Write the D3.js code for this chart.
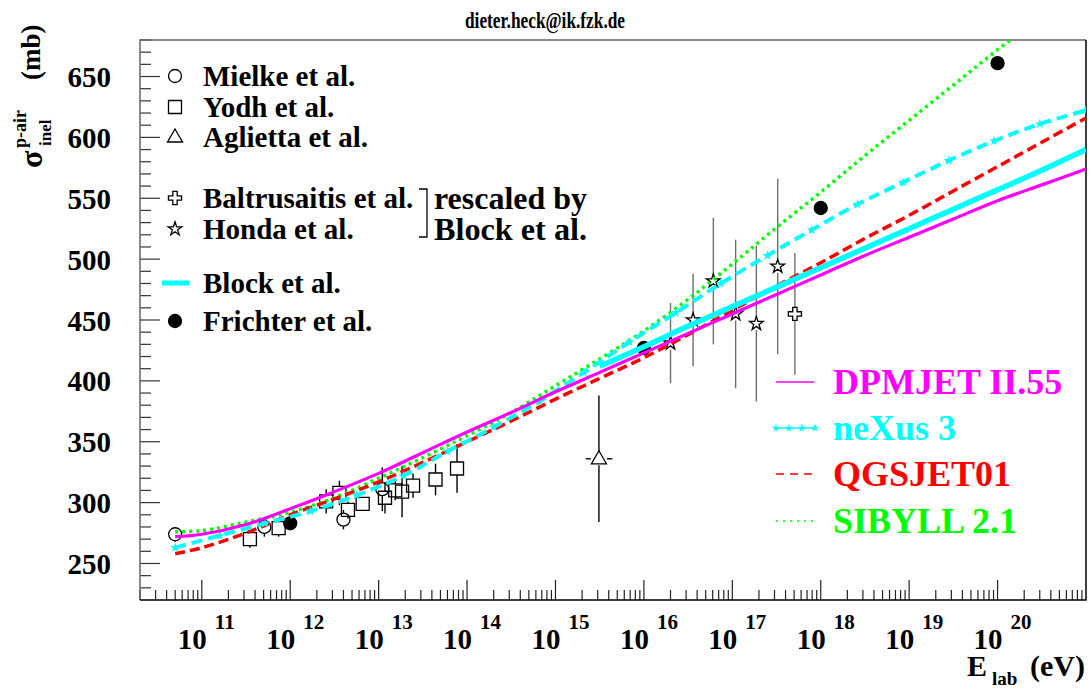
<!DOCTYPE html>
<html lang="en">
<head>
    <meta charset="UTF-8">
    <title>p-air inelastic cross section</title>
    <script src="https://d3js.org/d3.v7.min.js"></script>
    <style>
        body {
            margin: 0;
            background: #fff;
        }
        svg {
            display: block;
        }
        text {
            font-family: "Liberation Serif", "Times New Roman", serif;
            font-weight: bold;
        }
    </style>
</head>
<body>
    <svg id="chart" width="1090" height="689"></svg>
    <script>
// --- Chart values (energy in eV, cross section in mb) ---

// measurements
const mielkeE = [5.0e10, 5.1e11, 4.0e12, 1.1e13];
const mielkeSigma = [274, 280, 286, 311];
const mielkeErr = [6, 8, 8, 18];

const yodhE = [3.5e11, 7.4e11, 2.55e12, 3.6e12, 4.5e12, 6.6e12, 1.18e13, 1.54e13, 1.84e13, 2.45e13, 4.4e13, 7.7e13];
const yodhSigma = [270, 279, 301, 308, 294, 299, 304, 310, 309, 314, 319, 328];
const yodhErr = [7, 7, 10, 10, 7, 5, 13, 8, 21, 10, 13, 20];

const agliettaE = [3.1e15];
const agliettaELow = [2.2e15];
const agliettaEHigh = [4.4e15];
const agliettaSigma = [336];
const agliettaErr = [52];

const baltrusaitisE = [5.1e17];
const baltrusaitisSigma = [455];
const baltrusaitisErr = [50];

const hondaE = [2.0e16, 3.6e16, 6.1e16, 1.09e17, 1.87e17, 3.26e17];
const hondaSigma = [431, 450, 482, 455, 447, 494];
const hondaErr = [33, 38, 52, 61, 64, 72];

const frichterE = [1e12, 1e16, 1e18, 1e20];
const frichterSigma = [283, 427, 542, 661];

// Block et al. fit
const blockE = [3.16e15, 1e16, 3.16e16, 1e17, 3.16e17, 1e18, 3.16e18, 1e19, 3.16e19, 1e20, 3.16e20, 1e21];
const blockSigma = [412, 428, 445, 461, 477, 493, 509, 525, 541, 557, 573, 590];

// model predictions
const modelE = [5e10, 1e11, 3.16e11, 1e12, 3.16e12, 1e13, 3.16e13, 1e14, 3.16e14, 1e15, 3.16e15,
                1e16, 3.16e16, 1e17, 3.16e17, 1e18, 3.16e18, 1e19, 3.16e19, 1e20, 3.16e20, 1e21];
const dpmjetSigma = [272, 274, 282, 295, 309, 324, 341, 358, 374, 391, 407, 423, 439, 455, 471, 487, 503, 518, 533, 548, 561, 574];
const qgsjetSigma = [258, 263, 275, 290, 303, 317, 333, 350, 367, 385, 402, 419, 438, 458, 478, 497, 517, 536, 556, 576, 596, 616];
const sibyllSigma = [276, 277, 284, 292, 304, 320, 337, 355, 374, 396, 418, 441, 467, 496, 526, 555, 585, 614, 643, 672, 700];

const nexusE = [5.0e10, 1.6e11, 5.2e11, 1.7e12, 5.6e12, 1.9e13, 6.0e13, 2.0e14, 6.5e14, 2.1e15, 6.9e15,
                2.3e16, 7.4e16, 2.5e17, 7.9e17, 2.6e18, 8.5e18, 2.8e19, 9.1e19, 3.0e20, 9.8e20];
const nexusSigma = [263, 273, 283, 293, 306, 322, 342, 362, 383, 407, 432, 456, 480, 503, 524, 545, 563, 581, 597, 611, 622];

// axes
const xDecades = [11, 12, 13, 14, 15, 16, 17, 18, 19, 20];
const yTickLabels = [250, 300, 350, 400, 450, 500, 550, 600, 650];

// --- Layout ---
const svg = d3.select("#chart");
const plot = { left: 140, right: 1086, top: 40, bottom: 600 };

const x = d3.scaleLog().domain([2e10, 1e21]).range([plot.left, plot.right]);
const y = d3.scaleLinear().domain([220, 680]).range([plot.bottom, plot.top]);

const zip = (E, S, Err) => E.map((e, i) => ({ e: e, s: S[i], err: Err ? Err[i] : 0 }));

svg.append("defs").append("clipPath").attr("id", "plotClip")
    .append("rect")
    .attr("x", plot.left).attr("y", plot.top)
    .attr("width", plot.right - plot.left).attr("height", plot.bottom - plot.top);

// title
svg.append("text")
    .attr("x", 545).attr("y", 28)
    .attr("text-anchor", "middle")
    .attr("font-size", 24)
    .attr("textLength", 160)
    .attr("lengthAdjust", "spacingAndGlyphs")
    .text("dieter.heck@ik.fzk.de");

// --- Frame and ticks ---
const axisG = svg.append("g");

// y ticks every 10 mb, longer every 50
const yMinor = d3.range(230, 681, 10);
axisG.selectAll(".ytick")
    .data(yMinor)
    .join("line")
    .attr("class", "ytick")
    .attr("x1", plot.left)
    .attr("x2", d => plot.left + (d % 50 === 0 ? 20 : 11))
    .attr("y1", d => y(d)).attr("y2", d => y(d))
    .attr("stroke", "#333").attr("stroke-width", 1.2);

axisG.selectAll(".ylabel")
    .data(yTickLabels)
    .join("text")
    .attr("class", "ylabel")
    .attr("x", 111)
    .attr("y", d => y(d) + 10.5)
    .attr("text-anchor", "end")
    .attr("font-size", 29)
    .text(d => d);

// x ticks: decades and 2..9 in between
const xTicks = [];
for (let p = 10; p <= 20; p++) {
    for (let m = 1; m <= 9; m++) {
        const v = m * Math.pow(10, p);
        if (v >= 2e10 && v <= 1e21) xTicks.push({ v: v, major: m === 1 });
    }
}
axisG.selectAll(".xtick")
    .data(xTicks)
    .join("line")
    .attr("class", "xtick")
    .attr("x1", d => x(d.v)).attr("x2", d => x(d.v))
    .attr("y1", plot.bottom)
    .attr("y2", d => plot.bottom - (d.major ? 20 : 10))
    .attr("stroke", "#222").attr("stroke-width", 1.2);

const xLab = axisG.selectAll(".xlabel")
    .data(xDecades)
    .join("g")
    .attr("class", "xlabel")
    .attr("transform", d => `translate(${x(Math.pow(10, d))},0)`);
xLab.append("text")
    .attr("x", 5).attr("y", 649)
    .attr("text-anchor", "end")
    .attr("font-size", 29)
    .text("10");
xLab.append("text")
    .attr("x", 13).attr("y", 629)
    .attr("font-size", 21)
    .text(d => d);

// frame
axisG.append("path")
    .attr("d", `M${plot.left},${plot.bottom}V${plot.top}H${plot.right}`)
    .attr("fill", "none").attr("stroke", "#666").attr("stroke-width", 1.5);
axisG.append("path")
    .attr("d", `M${plot.left},${plot.bottom}H${plot.right}V${plot.top}`)
    .attr("fill", "none").attr("stroke", "#000").attr("stroke-width", 1.5);

// axis titles
const yTitle = svg.append("g").attr("transform", "translate(42,168) rotate(-90)");
yTitle.append("text").attr("x", 0).attr("y", 0).attr("font-size", 32).text("\u03c3");
yTitle.append("text").attr("x", 20).attr("y", -16).attr("font-size", 18).text("p-air");
yTitle.append("text").attr("x", 22).attr("y", 9).attr("font-size", 17).text("inel");
yTitle.append("text").attr("x", 88).attr("y", -2).attr("font-size", 27).text("(mb)");

svg.append("text").attr("x", 967).attr("y", 676).attr("font-size", 30).text("E");
svg.append("text").attr("x", 992).attr("y", 685).attr("font-size", 19).text("lab");
svg.append("text").attr("x", 1030).attr("y", 676).attr("font-size", 30).text("(eV)");

// --- Markers ---
const R = 6.5;
const starPath = (size) => d3.symbol().type(d3.symbolStar).size(size)();
const trianglePath = "M0,-8L7.5,5L-7.5,5Z";
const crossPath = d3.symbol().type(d3.symbolCross).size(95)();
const circlePath = d3.symbol().type(d3.symbolCircle).size(Math.PI * R * R)();
const squarePath = "M-6.5,-6.5H6.5V6.5H-6.5Z";

function errorBars(g, rows, color) {
    rows.forEach(d => {
        const cx = x(d.e), cy = y(d.s);
        const top = y(d.s + d.err), bot = y(d.s - d.err);
        if (cy - R > top) {
            g.append("line").attr("x1", cx).attr("x2", cx).attr("y1", top).attr("y2", cy - R)
                .attr("stroke", color).attr("stroke-width", 1.4);
        }
        if (cy + R < bot) {
            g.append("line").attr("x1", cx).attr("x2", cx).attr("y1", cy + R).attr("y2", bot)
                .attr("stroke", color).attr("stroke-width", 1.4);
        }
    });
}

function markers(g, rows, pathD, filled) {
    g.selectAll(null)
        .data(rows)
        .join("path")
        .attr("d", pathD)
        .attr("transform", d => `translate(${x(d.e)},${y(d.s)})`)
        .attr("fill", filled ? "#000" : "none")
        .attr("stroke", "#000")
        .attr("stroke-width", 1.3);
}

const dataG = svg.append("g");
const mielke = zip(mielkeE, mielkeSigma, mielkeErr);
const yodh = zip(yodhE, yodhSigma, yodhErr);
const aglietta = zip(agliettaE, agliettaSigma, agliettaErr);
const baltrusaitis = zip(baltrusaitisE, baltrusaitisSigma, baltrusaitisErr);
const honda = zip(hondaE, hondaSigma, hondaErr);
const frichter = zip(frichterE, frichterSigma);

errorBars(dataG, mielke, "#000");
errorBars(dataG, yodh, "#000");
errorBars(dataG, aglietta, "#000");
errorBars(dataG, honda, "#6e6e6e");
errorBars(dataG, baltrusaitis, "#6e6e6e");

// horizontal error of the Aglietta point
aglietta.forEach((d, i) => {
    const cx = x(d.e), cy = y(d.s);
    dataG.append("line").attr("x1", x(agliettaELow[i])).attr("x2", cx - 8).attr("y1", cy).attr("y2", cy)
        .attr("stroke", "#000").attr("stroke-width", 1.4);
    dataG.append("line").attr("x1", cx + 8).attr("x2", x(agliettaEHigh[i])).attr("y1", cy).attr("y2", cy)
        .attr("stroke", "#000").attr("stroke-width", 1.4);
});

markers(dataG, mielke, circlePath, false);
markers(dataG, yodh, squarePath, false);
markers(dataG, aglietta, trianglePath, false);
markers(dataG, honda, starPath(58), false);
markers(dataG, baltrusaitis, crossPath, false);
markers(dataG, frichter, circlePath, true);

// --- Model curves ---
const curveG = svg.append("g").attr("clip-path", "url(#plotClip)");
const line = d3.line().x(d => x(d.e)).y(d => y(d.s)).curve(d3.curveCatmullRom.alpha(0.5));

curveG.append("path")
    .attr("d", line(zip(modelE.slice(0, sibyllSigma.length), sibyllSigma)))
    .attr("fill", "none").attr("stroke", "#00ff00").attr("stroke-width", 3.5)
    .attr("stroke-dasharray", "3,4");
curveG.append("path")
    .attr("d", line(zip(modelE, qgsjetSigma)))
    .attr("fill", "none").attr("stroke", "#ff0000").attr("stroke-width", 3.5)
    .attr("stroke-dasharray", "10,5");
curveG.append("path")
    .attr("d", line(zip(nexusE, nexusSigma)))
    .attr("fill", "none").attr("stroke", "#00ffff").attr("stroke-width", 4)
    .attr("stroke-dasharray", "11,6");
curveG.selectAll(".nexusStar")
    .data(zip(nexusE, nexusSigma))
    .join("path")
    .attr("class", "nexusStar")
    .attr("d", starPath(30))
    .attr("transform", d => `translate(${x(d.e)},${y(d.s)})`)
    .attr("fill", "#00ffff");
curveG.append("path")
    .attr("d", line(zip(blockE, blockSigma)))
    .attr("fill", "none").attr("stroke", "#00ffff").attr("stroke-width", 5.5);
curveG.append("path")
    .attr("d", line(zip(modelE, dpmjetSigma)))
    .attr("fill", "none").attr("stroke", "#ff00ff").attr("stroke-width", 3.2);

// --- Legend (measurements) ---
const legG = svg.append("g");
const legRows = [
    { label: "Mielke et al.", cy: 76, sym: circlePath },
    { label: "Yodh et al.", cy: 107, sym: squarePath },
    { label: "Aglietta et al.", cy: 137, sym: trianglePath },
    { label: "Baltrusaitis et al.", cy: 198, sym: crossPath },
    { label: "Honda et al.", cy: 229, sym: starPath(58) },
    { label: "Block et al.", cy: 283, sym: null },
    { label: "Frichter et al.", cy: 321, sym: circlePath, filled: true }
];
legRows.forEach(r => {
    if (r.sym) {
        legG.append("path")
            .attr("d", r.sym)
            .attr("transform", `translate(175,${r.cy})`)
            .attr("fill", r.filled ? "#000" : "none")
            .attr("stroke", "#000").attr("stroke-width", 1.3);
    } else {
        legG.append("line")
            .attr("x1", 162).attr("x2", 189).attr("y1", r.cy).attr("y2", r.cy)
            .attr("stroke", "#00ffff").attr("stroke-width", 5);
    }
    legG.append("text")
        .attr("x", 203).attr("y", r.cy + 10)
        .attr("font-size", 29)
        .text(r.label);
});
legG.append("path")
    .attr("d", "M419,189H427V237H419")
    .attr("fill", "none").attr("stroke", "#000").attr("stroke-width", 1.3);
legG.append("text").attr("x", 434).attr("y", 209).attr("font-size", 31)
    .attr("textLength", 153).attr("lengthAdjust", "spacingAndGlyphs").text("rescaled by");
legG.append("text").attr("x", 434).attr("y", 240).attr("font-size", 31)
    .attr("textLength", 153).attr("lengthAdjust", "spacingAndGlyphs").text("Block et al.");

// --- Legend (models) ---
const modG = svg.append("g");
const modRows = [
    { label: "DPMJET II.55", color: "#ff00ff", cy: 382, dash: null },
    { label: "neXus 3", color: "#00ffff", cy: 428, dash: "stars" },
    { label: "QGSJET01", color: "#ff0000", cy: 474, dash: "8,6" },
    { label: "SIBYLL 2.1", color: "#00ff00", cy: 521, dash: "2,5" }
];
modRows.forEach(r => {
    if (r.dash === "stars") {
        [776, 789, 802, 815].forEach(sx => {
            modG.append("path").attr("d", starPath(22))
                .attr("transform", `translate(${sx},${r.cy})`)
                .attr("fill", r.color);
        });
        modG.append("line").attr("x1", 776).attr("x2", 815).attr("y1", r.cy).attr("y2", r.cy)
            .attr("stroke", r.color).attr("stroke-width", 1.5);
    } else {
        modG.append("line")
            .attr("x1", 776).attr("x2", 814).attr("y1", r.cy).attr("y2", r.cy)
            .attr("stroke", r.color).attr("stroke-width", 1.5)
            .attr("stroke-dasharray", r.dash);
    }
    modG.append("text")
        .attr("x", 833).attr("y", r.cy + 12)
        .attr("font-size", 36)
        .attr("fill", r.color)
        .text(r.label);
});
    </script>
</body>
</html>
